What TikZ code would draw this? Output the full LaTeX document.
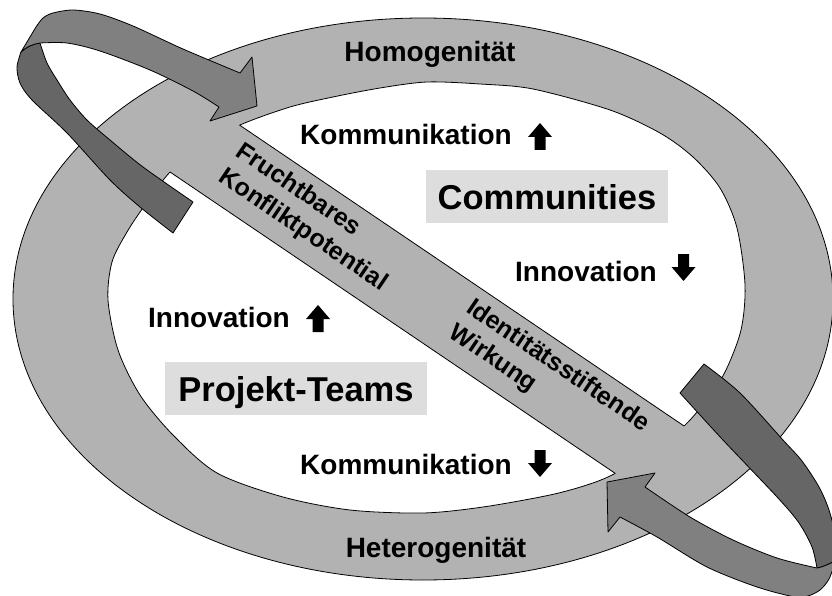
\documentclass[tikz,border=0pt]{standalone}
\usepackage{fontspec}
\newfontfamily\arial{Liberation Sans}
\definecolor{ringgray}{gray}{0.70}
\definecolor{midgray}{gray}{0.50}
\definecolor{darkgray2}{gray}{0.40}
\definecolor{boxgray}{gray}{0.867}
\begin{document}
\begin{tikzpicture}[x=1pt,y=-1pt,line join=round,
  outl/.style={draw=black,line width=0.8pt},
  midface/.style={fill=midgray,draw=black,line width=0.8pt},
  darkface/.style={fill=darkgray2,draw=black,line width=0.8pt},
  lbl/.style={font=\arial\bfseries\fontsize{28}{34}\selectfont,inner sep=0pt},
  big/.style={font=\arial\bfseries\fontsize{34.5}{40}\selectfont,fill=boxgray,inner sep=0pt,text height=25pt,text depth=0pt},
  bandlbl/.style={font=\arial\bfseries\fontsize{25}{30.5}\selectfont,align=left,rotate=-34.1,inner sep=0pt},
  uarr/.pic={\fill[black] (-5.5,0) -- (5.5,0) -- (5.5,-13) -- (12,-13) -- (0,-27) -- (-12,-13) -- (-5.5,-13) -- cycle;},
  darr/.pic={\fill[black] (-5.5,0) -- (5.5,0) -- (5.5,13) -- (12,13) -- (0,27) -- (-12,13) -- (-5.5,13) -- cycle;}]
\useasboundingbox (0,0) rectangle (832,596);
\clip (0,0) rectangle (832,596);
\def\outerpath{(423,299) ellipse [x radius=410, y radius=281]}
\def\innerpath{plot[smooth cycle] coordinates {(427,82) (480,84) (533,89) (610,110) (660,133) (693,157) (720,188) (737,228) (745,285) (741,330) (725,372) (705,402) (683,427) (650,452) (616,473) (590,484) (550,495) (483,507) (423,513) (350,510) (283,497) (217,473) (173,435) (140,395) (118,350) (108,300) (112,262) (127,232) (145,205) (170,172) (200,147) (240,125) (290,107) (333,97) (380,88)}}
% ring
\fill[ringgray] \outerpath;
\fill[white] \innerpath;
\draw[outl] \innerpath;
% diagonal band
\begin{scope}
\clip \outerpath;
\fill[ringgray] (100,30.6) -- (760,477.4) -- (760,571.4) -- (100,124.6) -- cycle;
\end{scope}
\begin{scope}
\clip \innerpath;
\coordinate (bt1) at (100,30.6);
\coordinate (bt2) at (760,477.4);
\coordinate (bb1) at (100,124.6);
\coordinate (bb2) at (760,571.4);
\draw[outl] (bt1) -- (bt2);
\draw[outl] (bb1) -- (bb2);
\end{scope}
\draw[outl] \outerpath;
% labels
\node[lbl,anchor=base] (homo) at (430,62) {Homogenität};
\node[lbl,anchor=base] (hetero) at (436,557) {Heterogenität};
\node[lbl,anchor=base west] (komU) at (300,145) {Kommunikation};
\pic at (540,150) {uarr};
\node[lbl,anchor=base west] (innD) at (515,281) {Innovation};
\pic at (683.5,254) {darr};
\node[lbl,anchor=base west] (innU) at (148,327) {Innovation};
\pic at (318,332) {uarr};
\node[lbl,anchor=base west] (komD) at (300,474) {Kommunikation};
\pic at (540,450) {darr};
\node[big,minimum width=242pt,minimum height=53pt] (comm) at (547,196.5) {Communities};
\node[big,minimum width=262pt,minimum height=53pt] (proj) at (296,388.5) {Projekt-Teams};
\node[bandlbl] (frucht) at (311.5,217.8) {Fruchtbares\\Konfliktpotential};
\node[bandlbl] (ident) at (549.2,378.8) {Identitätsstiftende\\Wirkung};
% top-left ribbon arrow
\filldraw[darkface] (21,52) .. controls (26,47) and (33,44) .. (40,43)
  -- plot[smooth] coordinates {(40,43) (47,63) (57,80) (70,100) (87,120) (110,140) (143,167) (193,202)}
  -- (173,233)
  -- plot[smooth] coordinates {(173,233) (140,207) (110,180) (67,133) (32,100) (20,83) (17,67) (21,52)} -- cycle;
\filldraw[midface] (219,107) -- (210,121) -- (257,106) -- (252,57) -- (240,73)
  -- plot[smooth] coordinates {(240,73) (183,49) (133,26) (100,14) (73,10) (53,13) (43,18) (36,27)}
  -- (21,52) .. controls (26,47) and (33,44) .. (40,43)
  -- plot[smooth] coordinates {(40,43) (67,43) (100,51) (150,70) (193,91) (219,107)} -- cycle;
% bottom-right ribbon arrow
\filldraw[darkface] (680,393) -- (704,364)
  -- plot[smooth] coordinates {(704,364) (740,393) (783,440) (802,461) (819,487) (829,510) (835,535) (836,560)}
  .. controls (830,564) and (823,567) .. (817,568)
  -- plot[smooth] coordinates {(817,568) (812,547) (799,523) (778,498) (723,440) (680,393)} -- cycle;
\filldraw[midface] (645,487) -- (655,473) -- (607,482) -- (608,532) -- (620,517)
  -- plot[smooth] coordinates {(620,517) (657,537) (707,567) (757,587) (795,597) (808,596) (820,590) (829,579) (836,560)}
  .. controls (830,564) and (823,567) .. (817,568)
  -- plot[smooth] coordinates {(817,568) (777,558) (733,540) (690,517) (645,487)} -- cycle;
\end{tikzpicture}
\end{document}
